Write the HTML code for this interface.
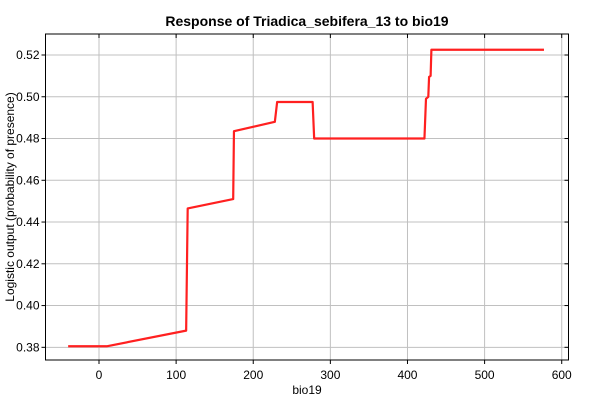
<!DOCTYPE html>
<html><head><meta charset="utf-8"><style>
body{margin:0;background:#fff;font-family:"Liberation Sans",sans-serif}
</style></head><body>
<svg id="c" width="600" height="400" xmlns="http://www.w3.org/2000/svg"></svg>
<script>
const xTicks=[0,100,200,300,400,500,600];
const yTicks=[0.38,0.40,0.42,0.44,0.46,0.48,0.50,0.52];
const xs=[-40,10,113,115,174,175,228,231,277,279,422,424,427,428,430,431,577];
const ys=[0.3805,0.3805,0.388,0.4465,0.451,0.4835,0.488,0.4975,0.4975,0.480,0.480,0.499,0.500,0.5095,0.510,0.5225,0.5225];
const L=45.5,R=568.5,T=34,B=360;
const sx=v=>99+v*0.7712;
const sy=v=>55+(0.52-v)/0.02*41.76;
const svg=document.getElementById('c');
const NS='http://www.w3.org/2000/svg';
function mk(t,a,p){const e=document.createElementNS(NS,t);for(const k in a)e.setAttribute(k,a[k]);(p||svg).appendChild(e);return e;}
let e;
e=mk('rect',{x:L,y:T,width:R-L,height:B-T,fill:'#fff'});


xTicks.forEach(v=>{const x=sx(v);
e=mk('line',{x1:x,x2:x,y1:T,y2:B,stroke:'#c0c0c0'});


mk('line',{x1:x,x2:x,y1:B,y2:B+4,stroke:'#000'});
mk('line',{x1:x,x2:x,y1:T,y2:T+4,stroke:'#000'});
e=mk('text',{x:x,y:B+19,'text-anchor':'middle','font-size':12,fill:'#000'});e.textContent=v;


});
yTicks.forEach(v=>{const y=sy(v);
e=mk('line',{x1:L,x2:R,y1:y,y2:y,stroke:'#c0c0c0'});


mk('line',{x1:L-4,x2:L,y1:y,y2:y,stroke:'#000'});
mk('line',{x1:R-4,x2:R,y1:y,y2:y,stroke:'#000'});
e=mk('text',{x:L-6,y:y+4,'text-anchor':'end','font-size':12,fill:'#000'});e.textContent=v.toFixed(2);


});
e=mk('rect',{x:L,y:T,width:R-L,height:B-T,fill:'none',stroke:'#000'});


e=mk('polyline',{points:xs.map((x,i)=>sx(x)+','+sy(ys[i])).join(' '),fill:'none',stroke:'#ff2020','stroke-width':2.2,'stroke-linejoin':'round'});


e=mk('text',{x:307,y:26,'text-anchor':'middle','font-size':14,'font-weight':'bold',fill:'#000'});e.textContent='Response of Triadica_sebifera_13 to bio19';


e=mk('text',{x:307,y:394,'text-anchor':'middle','font-size':12,fill:'#000'});e.textContent='bio19';


e=mk('text',{x:0,y:0,'text-anchor':'middle','font-size':12,fill:'#000',transform:'translate(14,197) rotate(-90)'});e.textContent='Logistic output (probability of presence)';


</script>
</body></html>
